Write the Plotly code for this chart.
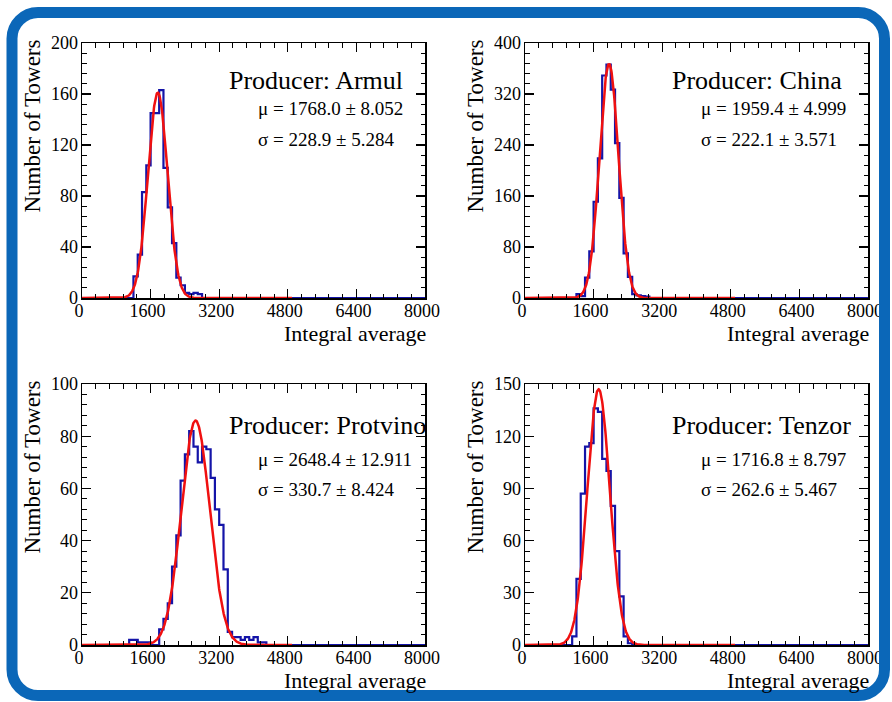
import numpy as np
import plotly.graph_objects as go

W, H = 892, 702

# ---------------- data ----------------
bin_width = 100
x_min, x_max = 0, 8000
x_tickvals = [0, 1600, 3200, 4800, 6400, 8000]

producers = ["Armul", "China", "Protvino", "Tenzor"]

armul_start = 1200
armul_counts = [17, 34, 83, 104, 145, 145, 163, 102, 71, 43, 16, 10, 4, 3, 4, 3]

china_start = 1200
china_counts = [6, 3, 32, 73, 151, 219, 349, 366, 327, 243, 157, 70, 33, 6, 4, 3, 2]

protvino_start = 1100
protvino_counts = [2, 2, 1, 1, 1, 0, 0, 6, 10, 16, 30, 42, 63, 73, 82, 76, 70, 76, 75,
                   64, 52, 46, 29, 5, 3, 3, 2, 3, 2, 3, 1, 1]

tenzor_start = 1100
tenzor_counts = [5, 38, 87, 114, 116, 136, 134, 107, 100, 80, 54, 28, 5, 1]

fit_mu = [1768.0, 1959.4, 2648.4, 1716.8]
fit_mu_err = ["8.052", "4.999", "12.911", "8.797"]
fit_sigma = [228.9, 222.1, 330.7, 262.6]
fit_sigma_err = ["5.284", "3.571", "8.424", "5.467"]
fit_peak = [161, 367, 86, 147]          # fitted amplitude
fit_range = [0, 4900]

y_max = [200, 400, 100, 150]
y_dtick = [40, 80, 20, 30]

starts = [armul_start, china_start, protvino_start, tenzor_start]
counts = [armul_counts, china_counts, protvino_counts, tenzor_counts]

# ---------------- layout geometry (pixels) ----------------
boxes = [(82, 425, 43, 298), (525, 868, 43, 298),
         (82, 425, 384, 645), (525, 868, 384, 645)]
# vertical offsets of the three text lines from the top of each frame (per row)
text_dy = [(37, 65, 96), (37, 65, 96), (42, 75, 105), (42, 75, 105)]

SERIF = "Liberation Serif, Times New Roman, serif"
BLUE = "#1414a8"
RED = "#f01010"


def fx(x):
    return x / W


def fy(y):
    return 1 - y / H


fig = go.Figure()
annotations = []
layout = {}

edges = np.arange(x_min, x_max + bin_width, bin_width)
nb = len(edges) - 1

for i, name in enumerate(producers):
    full = np.zeros(nb)
    s = int((starts[i] - x_min) / bin_width)
    full[s:s + len(counts[i])] = counts[i]
    hx = np.append(edges[:-1], edges[-1])
    hy = np.append(full, full[-1])
    xa = "x" if i == 0 else f"x{i+1}"
    ya = "y" if i == 0 else f"y{i+1}"
    fig.add_trace(go.Scatter(x=hx, y=hy, mode="lines", line=dict(color=BLUE, width=2.2, shape="hv"),
                             xaxis=xa, yaxis=ya, showlegend=False, hoverinfo="skip",
                             cliponaxis=False))
    gx = np.linspace(fit_range[0], fit_range[1], 600)
    gy = fit_peak[i] * np.exp(-0.5 * ((gx - fit_mu[i]) / fit_sigma[i]) ** 2)
    fig.add_trace(go.Scatter(x=gx, y=gy, mode="lines", line=dict(color=RED, width=2.5),
                             xaxis=xa, yaxis=ya, showlegend=False, hoverinfo="skip",
                             cliponaxis=False))

    x0, x1, y0, y1 = boxes[i]
    xkey = "xaxis" if i == 0 else f"xaxis{i+1}"
    ykey = "yaxis" if i == 0 else f"yaxis{i+1}"
    layout[xkey] = dict(
        domain=[fx(x0), fx(x1)], range=[x_min, x_max], anchor=ya, automargin=False,
        showline=True, linecolor="black", linewidth=1.5, mirror="ticks",
        ticks="inside", ticklen=9, tickwidth=1.2, tickcolor="black",
        tickvals=x_tickvals, ticktext=[str(v) for v in x_tickvals],
        tickfont=dict(family=SERIF, size=18, color="black"),
        ticklabelstandoff=-4, ticklabelshift=-3,
        minor=dict(ticks="inside", ticklen=4.5, tickwidth=1, tickcolor="black",
                   tick0=0, dtick=320, showgrid=False),
        showgrid=False, zeroline=False, fixedrange=True,
    )
    layout[ykey] = dict(
        domain=[fy(y1), fy(y0)], range=[0, y_max[i]], anchor=xa, automargin=False,
        showline=True, linecolor="black", linewidth=1.5, mirror="ticks",
        ticks="inside", ticklen=9, tickwidth=1.2, tickcolor="black",
        tick0=0, dtick=y_dtick[i],
        tickfont=dict(family=SERIF, size=18, color="black"),
        ticklabelstandoff=-1,
        minor=dict(ticks="inside", ticklen=4.5, tickwidth=1, tickcolor="black",
                   tick0=0, dtick=y_dtick[i] / 5, showgrid=False),
        showgrid=False, zeroline=False, fixedrange=True,
    )

    d1, d2, d3 = text_dy[i]
    annotations.append(dict(text=f"Producer: {name}", x=fx(x0 + 145), y=fy(y0 + d1),
                            xref="paper", yref="paper", xanchor="left", yanchor="middle",
                            showarrow=False, font=dict(family=SERIF, size=26, color="black")))
    annotations.append(dict(text=f"\u03bc = {fit_mu[i]:.1f} \u00b1 {fit_mu_err[i]}",
                            x=fx(x0 + 174), y=fy(y0 + d2),
                            xref="paper", yref="paper", xanchor="left", yanchor="middle",
                            showarrow=False, font=dict(family=SERIF, size=19, color="black")))
    annotations.append(dict(text=f"\u03c3 = {fit_sigma[i]:.1f} \u00b1 {fit_sigma_err[i]}",
                            x=fx(x0 + 174), y=fy(y0 + d3),
                            xref="paper", yref="paper", xanchor="left", yanchor="middle",
                            showarrow=False, font=dict(family=SERIF, size=19, color="black")))
    annotations.append(dict(text="Number of Towers", textangle=-90,
                            x=fx(x0 - 50), y=fy(y0 - 5),
                            xref="paper", yref="paper", xanchor="center", yanchor="top",
                            showarrow=False, font=dict(family=SERIF, size=23, color="black")))
    annotations.append(dict(text="Integral average", x=fx(x1 + 3), y=fy(y1 + 35),
                            xref="paper", yref="paper", xanchor="right", yanchor="middle",
                            showarrow=False, font=dict(family=SERIF, size=22, color="black")))

# rounded blue frame around the whole picture
L, R, T, B, r = 12, 884.5, 12.5, 695.5, 26
k = 0.5523 * r
pts = [
    f"M{fx(L + r)},{fy(T)}",
    f"L{fx(R - r)},{fy(T)}",
    f"C{fx(R - r + k)},{fy(T)} {fx(R)},{fy(T + r - k)} {fx(R)},{fy(T + r)}",
    f"L{fx(R)},{fy(B - r)}",
    f"C{fx(R)},{fy(B - r + k)} {fx(R - r + k)},{fy(B)} {fx(R - r)},{fy(B)}",
    f"L{fx(L + r)},{fy(B)}",
    f"C{fx(L + r - k)},{fy(B)} {fx(L)},{fy(B - r + k)} {fx(L)},{fy(B - r)}",
    f"L{fx(L)},{fy(T + r)}",
    f"C{fx(L)},{fy(T + r - k)} {fx(L + r - k)},{fy(T)} {fx(L + r)},{fy(T)}",
    "Z",
]
shapes = [dict(type="path", xref="paper", yref="paper", path=" ".join(pts),
               line=dict(color="#0b67b8", width=11), fillcolor="rgba(0,0,0,0)", layer="above")]

fig.update_layout(
    width=W, height=H, margin=dict(l=0, r=0, t=0, b=0, autoexpand=False),
    paper_bgcolor="white", plot_bgcolor="white",
    annotations=annotations, shapes=shapes, showlegend=False,
    **layout,
)

fig.write_html(
    "out.html",
    config={"displayModeBar": False, "staticPlot": True},
    post_script="document.body.style.margin='0px';document.body.style.overflow='hidden';",
)
